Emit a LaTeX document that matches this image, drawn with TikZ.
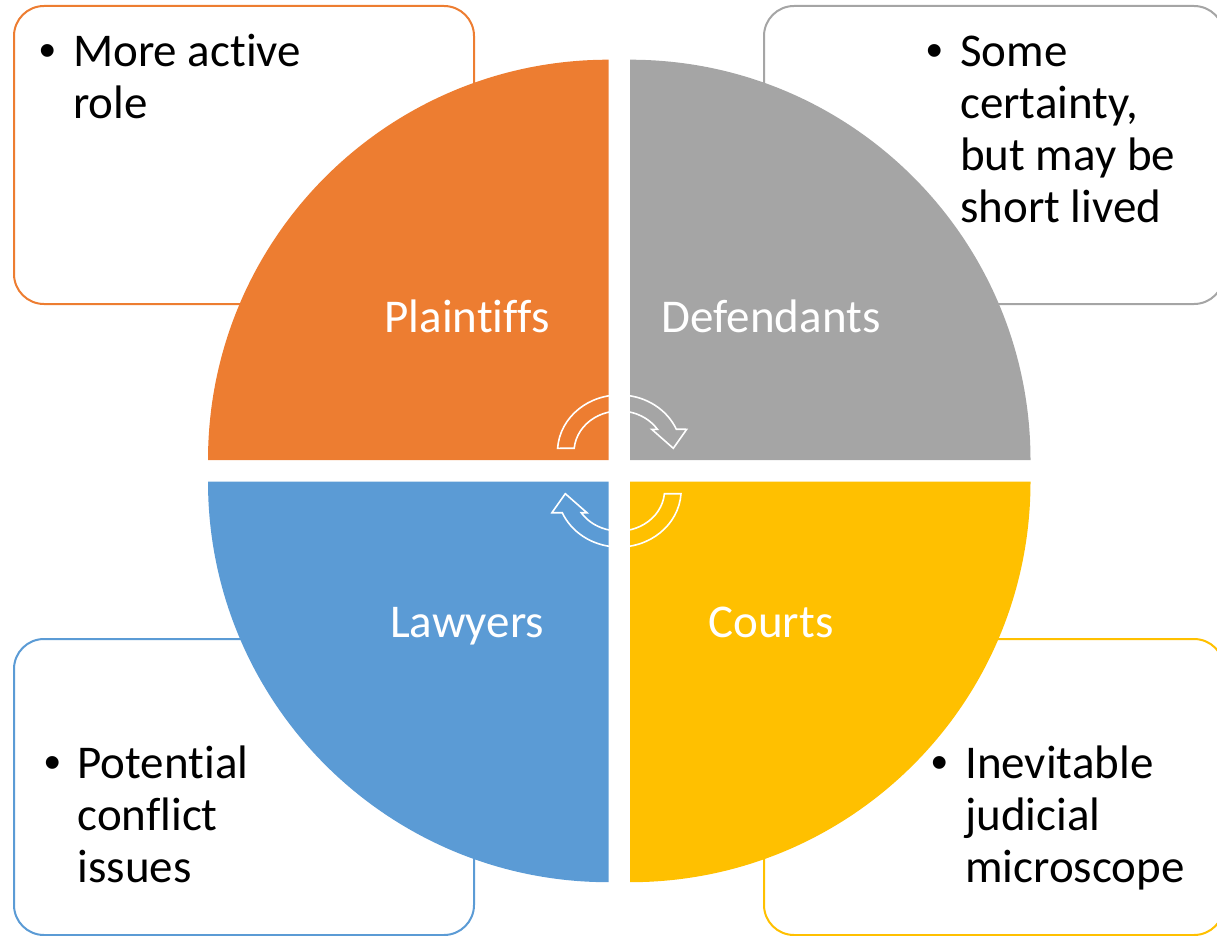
\documentclass[tikz,border=0pt]{standalone}
\usepackage{fontspec}
\setmainfont{Carlito}[Ligatures=NoCommon]
\newfontfamily\bulletfont{Liberation Sans}
\definecolor{qorange}{HTML}{ED7D31}
\definecolor{qgray}{HTML}{A5A5A5}
\definecolor{qblue}{HTML}{5B9BD5}
\definecolor{qyellow}{HTML}{FFC000}
\tikzset{
  infobox/.style={draw=#1, fill=white, line width=2pt, rounded corners=30pt,
    minimum width=460pt, minimum height=298pt, inner sep=0pt},
  quadlabel/.style={anchor=base, inner sep=0pt, text=white,
    font=\fontsize{47}{52}\selectfont},
  bullettext/.style={anchor=base west, inner sep=0pt, text=black,
    font=\fontsize{47}{52}\selectfont},
  turnarrow/.style={draw=white, line width=1.6pt, line join=miter},
  cyclearrow/.pic={
    \draw[turnarrow] (557.6,448.3)
      arc[start angle=183.7, end angle=336.5, x radius=62, y radius=57]
      -- (686.7,429.3) -- (673.3,448.3) -- (651.7,429.3) -- (657.4,429.3)
      arc[start angle=326.4, end angle=185.2, x radius=45.5, y radius=41]
      -- cycle;
  }
}
\newcommand\bulletrow[1]{\makebox[33.5pt][l]{\bulletfont\textbullet}#1}
\newcommand\hangrow[1]{\hspace{33.5pt}#1}
\begin{document}
\begin{tikzpicture}[x=1pt, y=-1pt]
  \useasboundingbox (0,0) rectangle (1217,936);
  \begin{scope}
    \clip (0,0) rectangle (1217,936);
    % note boxes behind the circle
    \node[infobox=qorange] (pbox) at (244,155) {};
    \node[infobox=qgray]   (dbox) at (994,155) {};
    \node[infobox=qblue, minimum height=296pt]   (lbox) at (244,787) {};
    \node[infobox=qyellow, minimum height=296pt] (cbox) at (994,787) {};
  \end{scope}

  % quarter-circle sectors
  \coordinate (pc) at (608.5,460.2);
  \coordinate (dc) at (630,460.2);
  \coordinate (lc) at (608.5,481.7);
  \coordinate (cc) at (630,481.7);
  \fill[qorange] (pc) -- ++(-400.5,0) arc[start angle=180, end angle=270, radius=400.5] -- cycle;
  \fill[qgray]   (dc) -- ++(0,-400.5) arc[start angle=270, end angle=360, radius=400.5] -- cycle;
  \fill[qblue]   (lc) -- ++(-400.5,0) arc[start angle=180, end angle=90, radius=400.5] -- cycle;
  \fill[qyellow] (cc) -- ++(400.5,0) arc[start angle=0, end angle=90, radius=400.5] -- cycle;

  % cycle arrows in the middle
  \pic at (0,0) {cyclearrow};
  \pic[rotate=180] at (1238.6,942) {cyclearrow};

  % sector labels
  \node[quadlabel] (plaintiffs) at (467,332.7) {Plaintiffs};
  \node[quadlabel] (defendants) at (771,332.7) {Defendants};
  \node[quadlabel] (lawyers)    at (467,637.3) {Lawyers};
  \node[quadlabel] (courts)     at (771,637.3) {Courts};

  % bullet notes
  \node[bullettext] (pnote) at (39.5,67) {\begin{tabular}[t]{@{}l@{}}
    \bulletrow{More active}\\ \hangrow{role}\end{tabular}};
  \node[bullettext] (dnote) at (926.5,67) {\begin{tabular}[t]{@{}l@{}}
    \bulletrow{Some}\\ \hangrow{certainty,}\\ \hangrow{but may be}\\
    \hangrow{short lived}\end{tabular}};
  \node[bullettext] (lnote) at (43.8,778.3) {\begin{tabular}[t]{@{}l@{}}
    \bulletrow{Potential}\\ \hangrow{conflict}\\ \hangrow{issues}\end{tabular}};
  \node[bullettext] (cnote) at (931.5,778.3) {\begin{tabular}[t]{@{}l@{}}
    \bulletrow{Inevitable}\\ \hangrow{judicial}\\ \hangrow{microscope}\end{tabular}};
\end{tikzpicture}
\end{document}
